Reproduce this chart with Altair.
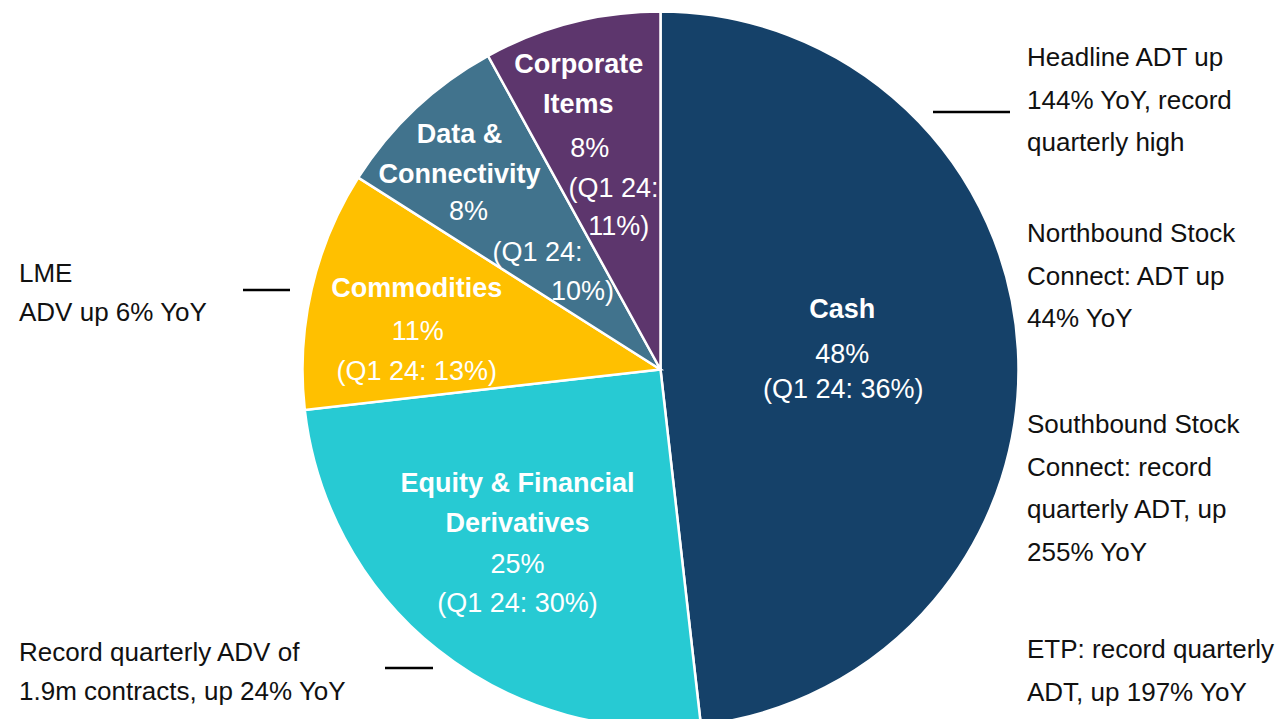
import altair as alt
import pandas as pd

# ---------------- data ----------------
categories = ["Cash", "Equity & Financial Derivatives", "Commodities",
              "Data & Connectivity", "Corporate Items"]
shares = [48.2, 25.0, 10.8, 8.0, 8.0]          # share of revenue, Q1 25 (%)
prior_shares = [36, 30, 13, 10, 11]            # Q1 24 (%)
colors = ["#154169", "#27CAD3", "#FFC000", "#41738D", "#5D366D"]

title_lines = {
    "Cash": ["Cash"],
    "Equity & Financial Derivatives": ["Equity & Financial", "Derivatives"],
    "Commodities": ["Commodities"],
    "Data & Connectivity": ["Data &", "Connectivity"],
    "Corporate Items": ["Corporate", "Items"],
}

annotations_right = [
    ["Headline ADT up", "144% YoY, record", "quarterly high"],
    ["Northbound Stock", "Connect: ADT up", "44% YoY"],
    ["Southbound Stock", "Connect: record", "quarterly ADT, up", "255% YoY"],
    ["ETP: record quarterly", "ADT, up 197% YoY"],
]
annotations_left = [
    ["LME", "ADV up 6% YoY"],
    ["Record quarterly ADV of", "1.9m contracts, up 24% YoY"],
]

df = pd.DataFrame({"category": categories, "share": shares,
                   "prior": prior_shares, "order": list(range(len(categories)))})

# ---------------- layout constants ----------------
W, H = 1268, 711
CX, CY, R = 652.5, 361.5, 358
FONT = "Liberation Sans, Arial, sans-serif"
LBL = 27
ANN = 26
LH = 42.5

theta_scale = alt.Scale(domain=[0, 100])
base = alt.Chart(df)

pie = base.mark_arc(stroke="white", strokeWidth=2.5).encode(
    theta=alt.Theta("share:Q", stack=True, scale=theta_scale),
    color=alt.Color("category:N", scale=alt.Scale(domain=categories, range=colors), legend=None),
    order=alt.Order("order:Q"),
    x=alt.value(CX), y=alt.value(CY),
    radius=alt.value(R),
)


def label_texts(cat):
    i = categories.index(cat)
    pct = f"{round(shares[i])}%"
    if cat in ("Data & Connectivity", "Corporate Items"):
        prior = ["(Q1 24:", f"{prior_shares[i]}%)"]
    else:
        prior = [f"(Q1 24: {prior_shares[i]}%)"]
    t = [(s, True) for s in title_lines[cat]]
    t += [(pct, False)] + [(p, False) for p in prior]
    return t

# per-slice anchor radius and per-line offsets (dx, dy)
label_layout = {
    "Cash": (183, [(-1, -49), (-1, -4), (0, 31)]),
    "Equity & Financial Derivatives": (220, [(-6, -57.5), (-6, -17.6), (-6, 23.4), (-6, 62.4)]),
    "Commodities": (245, [(-5, -25.3), (-4, 17.7), (-5, 57.7)]),
    "Data & Connectivity": (260, [(-23, -44.9), (-23, -4.9), (-14, 32.1), (55, 73.1), (100, 112.1)]),
    "Corporate Items": (250, [(-19.5, -61.9), (-20, -21.9), (-8.5, 21.5), (15.2, 61.5), (20.5, 99.8)]),
}

label_layers = []
for cat in categories:
    r, offs = label_layout[cat]
    for (txt, bold), (dx, dy) in zip(label_texts(cat), offs):
        lyr = base.transform_window(
            cum="sum(share)", sort=[alt.SortField("order")], frame=[None, 0]
        ).transform_calculate(
            mid="datum.cum - datum.share / 2"
        ).transform_filter(
            alt.datum.category == cat
        ).mark_text(
            text=txt, dx=dx, dy=dy, font=FONT, fontSize=LBL,
            fontWeight="bold" if bold else "normal", color="white",
            align="center", baseline="middle",
        ).encode(
            theta=alt.Theta("mid:Q", scale=theta_scale),
            radius=alt.value(r),
            x=alt.value(CX), y=alt.value(CY),
        )
        label_layers.append(lyr)

# ---------------- side annotations ----------------
ann_layers = []
right_y = [49, 225, 416, 641]
for lines, yc in zip(annotations_right, right_y):
    ann_layers.append(
        alt.Chart(pd.DataFrame({"t": [0]})).mark_text(
            text=lines, font=FONT, fontSize=ANN, color="#111111",
            align="left", baseline="alphabetic", lineHeight=LH,
        ).encode(x=alt.value(1019), y=alt.value(yc + 9.3))
    )
left_y = [265, 644]
for lines, yc in zip(annotations_left, left_y):
    ann_layers.append(
        alt.Chart(pd.DataFrame({"t": [0]})).mark_text(
            text=lines, font=FONT, fontSize=ANN, color="#111111",
            align="left", baseline="alphabetic", lineHeight=LH - 3.5,
        ).encode(x=alt.value(11), y=alt.value(yc + 9.3))
    )

dashes = [(925, 1002, 104), (235, 282, 282), (377, 425, 660)]
for x1, x2, yy in dashes:
    ann_layers.append(
        alt.Chart(pd.DataFrame({"t": [0]})).mark_rule(color="#000000", strokeWidth=2.5).encode(
            x=alt.value(x1), x2=alt.value(x2), y=alt.value(yy)
        )
    )

chart = alt.layer(pie, *label_layers, *ann_layers).properties(
    width=W, height=H, padding=0, autosize=alt.AutoSizeParams(type="none")
).configure_view(stroke=None)

chart.save("out.html", embed_options={"renderer": "svg", "actions": False})
